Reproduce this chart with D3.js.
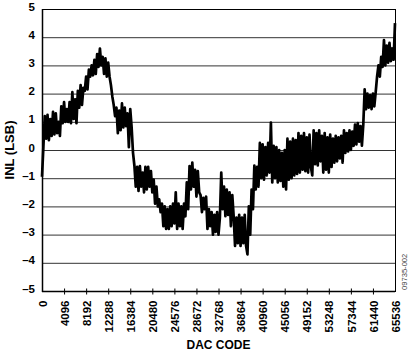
<!DOCTYPE html>
<html>
<head>
<meta charset="utf-8">
<script src="https://cdn.jsdelivr.net/npm/d3@7"></script>
<style>
  body { margin: 0; background: #fff; }
  text { font-family: "Liberation Sans", Arial, sans-serif; }
</style>
</head>
<body>
<svg width="415" height="355"></svg>
<script>
// INL vs DAC code, one sample every 256 codes
const codeStep = 256;
const inl = [
  -0.95, 0.1, 1.2, 0.4, 1.25, 0.35, 1.1, 0.5, 1.35, 0.55,
  1.3, 0.6, 1.0, 0.5, 1.55, 0.95, 1.7, 1.0, 1.45, 1.0,
  1.7, 0.95, 2.05, 1.1, 1.8, 0.95, 2.1, 1.5, 2.3, 1.6,
  2.2, 2.1, 2.6, 2.15, 2.85, 2.6, 3.0, 2.65, 3.2, 2.7,
  3.4, 2.95, 3.6, 3.0, 3.3, 2.7, 3.25, 2.6, 3.1, 2.6,
  2.3, 1.9, 1.6, 1.2, 1.5, 0.6, 1.4, 0.7, 1.65, 0.8,
  1.5, 0.85, 1.3, 0.1, 1.45, 0.8, -0.1, -0.55, -1.3, -0.6,
  -1.45, -0.57, -1.3, -0.8, -1.5, -0.6, -1.4, -0.6, -1.3, -0.75,
  -1.5, -1.05, -1.9, -1.3, -2.0, -1.75, -2.2, -1.9, -2.7, -2.0,
  -2.8, -2.1, -2.8, -2.0, -2.7, -1.9, -2.6, -1.5, -2.8, -1.9,
  -2.7, -2.0, -2.8, -1.9, -2.35, -1.15, -2.1, -0.57, -1.4, -0.45,
  -1.3, -0.7, -1.65, -0.75, -1.5, -1.6, -2.2, -1.7, -2.1, -1.65,
  -2.8, -2.1, -2.7, -2.2, -3.0, -2.3, -2.9, -2.2, -3.0, -2.4,
  -0.8, -2.1, -1.3, -2.35, -1.4, -2.3, -1.5, -2.7, -1.6, -2.35,
  -3.4, -2.4, -3.3, -2.3, -3.4, -2.4, -3.3, -2.3, -3.4, -3.7,
  -2.0, -3.0, -1.4, -2.1, -0.55, -1.4, -0.6, -1.3, 0.25, -1.0,
  0.2, -1.05, 0.1, -0.9, 0.25, -0.8, 0.97, -1.15, 0.15, -1.0,
  0.1, -1.15, 0.0, -1.1, -0.1, -1.3, 0.0, -1.4, 0.4, -1.05,
  0.3, -1.0, 0.4, -0.9, 0.35, -0.85, 0.6, -0.8, 0.5, -0.7,
  0.6, -0.75, 0.45, -0.8, 0.55, -0.6, -0.9, 0.7, -0.5, 0.6,
  -0.55, 0.7, -0.4, 0.5, -0.8, 0.6, -0.7, 0.45, -0.8, 0.55,
  -0.6, 0.4, -0.45, 0.5, -0.4, 0.45, -0.3, 0.5, -0.45, 0.7,
  -0.1, 0.6, -0.05, 0.7, 0.0, 0.65, 0.15, 0.9, 0.2, 0.95,
  0.3, 0.85, 0.15, 0.9, 2.15, 1.45, 2.0, 1.5, 1.95, 1.45,
  2.0, 1.55, 2.05, 2.6, 3.0, 2.6, 3.3, 2.95, 3.9, 3.0,
  3.7, 3.1, 3.8, 3.15, 3.6, 3.2, 4.5
];
const xTicks = d3.range(0, 65537, 4096);
const yTicks = d3.range(-5, 6, 1);

function draw() {
  const svg = d3.select("svg");
  const left = 42, right = 395, top = 9, bottom = 291;

  const x = d3.scaleLinear().domain([0, 65536]).range([left, right]);
  const y = d3.scaleLinear().domain([-5, 5]).range([bottom, top]);

  // horizontal grid
  svg.append("g")
    .selectAll("line")
    .data(yTicks.filter(d => d > -5 && d < 5))
    .join("line")
    .attr("x1", left)
    .attr("x2", right)
    .attr("y1", d => y(d) + 0.5)
    .attr("y2", d => y(d) + 0.5)
    .attr("stroke", "#333")
    .attr("stroke-width", 1);

  // frame
  svg.append("rect")
    .attr("x", left + 0.5)
    .attr("y", top + 0.5)
    .attr("width", right - left)
    .attr("height", bottom - top)
    .attr("fill", "none")
    .attr("stroke", "#000")
    .attr("stroke-width", 1);
  svg.append("line")
    .attr("x1", left + 0.5).attr("x2", left + 0.5)
    .attr("y1", top).attr("y2", bottom + 1)
    .attr("stroke", "#000").attr("stroke-width", 1.5);
  svg.append("line")
    .attr("x1", left).attr("x2", right)
    .attr("y1", bottom + 0.5).attr("y2", bottom + 0.5)
    .attr("stroke", "#000").attr("stroke-width", 1.5);

  // the INL trace
  const line = d3.line()
    .x((d, i) => x(i * codeStep))
    .y(d => y(d));
  svg.append("path")
    .datum(inl)
    .attr("d", line)
    .attr("fill", "none")
    .attr("stroke", "#000")
    .attr("stroke-width", 2.7)
    .attr("stroke-linejoin", "round");

  // x axis: ticks across the bottom line, vertical labels
  const xAxis = d3.axisBottom(x)
    .tickValues(xTicks)
    .tickSize(0)
    .tickFormat(d3.format("d"));
  const gx = svg.append("g")
    .attr("transform", `translate(0,${bottom + 0.5})`)
    .call(xAxis);
  gx.select(".domain").remove();
  gx.selectAll(".tick")
    .filter(d => d > 0 && d < 65536)
    .append("line")
    .attr("y1", -3)
    .attr("y2", 3)
    .attr("stroke", "#000");
  gx.selectAll(".tick text")
    .attr("transform", "rotate(-90)")
    .attr("x", -9)
    .attr("y", 0)
    .attr("dy", "0.36em")
    .attr("text-anchor", "end")
    .attr("font-size", 11.5)
    .attr("font-weight", "bold")
    .attr("font-family", "Liberation Sans, Arial, sans-serif")
    .attr("fill", "#000");

  // y axis labels
  const yAxis = d3.axisLeft(y)
    .tickValues(yTicks)
    .tickSize(0)
    .tickFormat(d => d < 0 ? "\u2013" + Math.abs(d) : d);
  const gy = svg.append("g")
    .attr("transform", `translate(${left},0)`)
    .call(yAxis);
  gy.select(".domain").remove();
  gy.selectAll(".tick text")
    .attr("x", -7)
    .attr("dy", "0.1em")
    .attr("font-size", 11.5)
    .attr("font-weight", "bold")
    .attr("font-family", "Liberation Sans, Arial, sans-serif")
    .attr("fill", "#000");

  // titles
  svg.append("text")
    .attr("x", (left + right) / 2)
    .attr("y", 349)
    .attr("text-anchor", "middle")
    .attr("font-size", 12)
    .attr("font-weight", "bold")
    .text("DAC CODE");

  svg.append("text")
    .attr("transform", `translate(14,${(top + bottom) / 2}) rotate(-90)`)
    .attr("text-anchor", "middle")
    .attr("font-size", 13)
    .attr("font-weight", "bold")
    .text("INL (LSB)");

  svg.append("text")
    .attr("transform", "translate(407,290) rotate(-90)")
    .attr("text-anchor", "start")
    .attr("font-size", 7.6)
    .attr("fill", "#444")
    .text("09735-002");
}

window.onload = draw;
</script>
</body>
</html>
